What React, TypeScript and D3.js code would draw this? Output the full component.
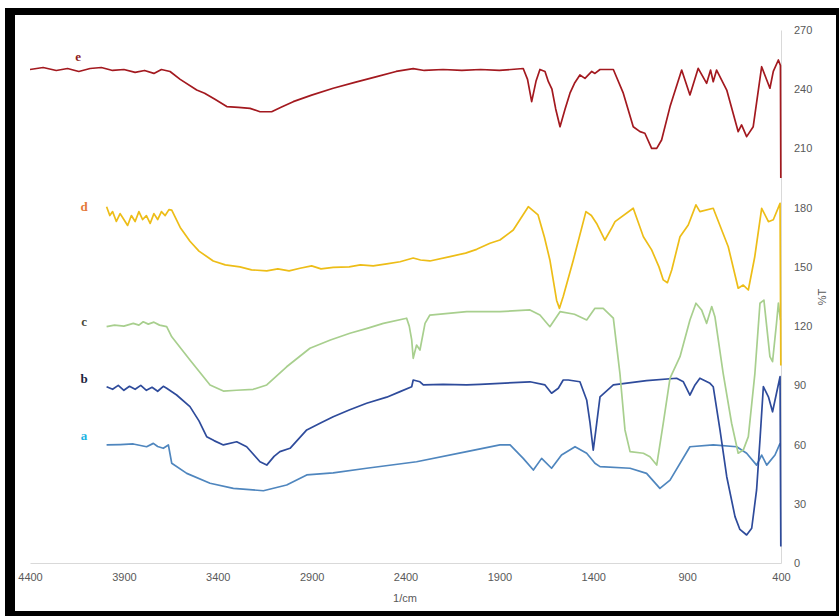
import { useEffect, useRef } from "react";
import * as d3 from "d3";

// wavenumber (1/cm), %T
const seriesE: [number, number][] = [
  [4400, 250], [4330, 251], [4260, 249.5], [4200, 250.5], [4140, 249], [4080, 250.5], [4020, 251],
  [3960, 249.5], [3900, 250], [3840, 248.5], [3790, 249.5], [3740, 248], [3700, 250], [3654, 249],
  [3600, 245], [3512, 239.6], [3470, 238], [3415, 234.9], [3352, 231.2], [3290, 230.8], [3228, 230.3],
  [3175, 228.6], [3113, 228.6], [3060, 231], [2998, 233.7], [2900, 237], [2785, 240.5], [2670, 243.5],
  [2553, 246.4], [2450, 249], [2359, 250.4], [2300, 249.5], [2200, 250], [2100, 249.5], [2000, 250],
  [1900, 249.5], [1773, 250.5], [1750, 245], [1728, 233.7], [1705, 244], [1684, 250], [1657, 249],
  [1639, 243.8], [1620, 240], [1600, 230], [1577, 221], [1550, 230], [1524, 238], [1500, 243],
  [1471, 247.2], [1444, 245.5], [1408, 249], [1391, 248], [1364, 250], [1293, 250], [1240, 238],
  [1187, 221], [1151, 218.5], [1125, 217.7], [1089, 210], [1062, 210], [1036, 214.3], [991, 231.2],
  [929, 249.7], [885, 237.1], [841, 250.6], [796, 243], [775, 249.7], [761, 243.8], [743, 249.7],
  [689, 239.6], [628, 218.5], [610, 221.9], [583, 216], [548, 221], [503, 251.4], [459, 240.5],
  [441, 249], [414, 254.8], [403, 252], [401, 195],
];

const seriesD: [number, number][] = [
  [3992, 180.5], [3975, 176], [3960, 178], [3940, 173], [3920, 177], [3900, 174], [3880, 171],
  [3860, 176], [3840, 173], [3820, 178], [3800, 174], [3780, 176], [3760, 172], [3740, 177],
  [3720, 174], [3700, 178], [3680, 176], [3660, 179], [3645, 178.8], [3600, 170], [3548, 163],
  [3500, 158], [3424, 153], [3360, 151], [3282, 150], [3220, 148.5], [3139, 148], [3080, 149],
  [3020, 148], [2962, 149.3], [2900, 150.5], [2850, 149], [2785, 149.8], [2700, 150], [2640, 151],
  [2572, 150.5], [2500, 151.5], [2429, 152.6], [2359, 154.5], [2320, 153.5], [2270, 153],
  [2163, 155.2], [2080, 157], [2021, 158.9], [1950, 162], [1897, 163.6], [1826, 168.7],
  [1746, 180.5], [1694, 176.3], [1660, 165], [1631, 153.5], [1595, 133], [1580, 129], [1560, 135],
  [1506, 153.5], [1439, 178], [1410, 176], [1382, 172], [1338, 163.6], [1300, 170], [1284, 172.9],
  [1187, 179.7], [1133, 165.3], [1089, 158.6], [1050, 150], [1027, 143.4], [1005, 142], [982, 148.4],
  [938, 165.3], [894, 171.2], [853, 181.4], [832, 178], [761, 179.7], [681, 160.2], [628, 139.2],
  [601, 140.8], [574, 138.3], [540, 155], [503, 179.7], [467, 172.9], [441, 173.9], [405, 182.2],
  [401, 100],
];

const seriesC: [number, number][] = [
  [3992, 119.7], [3950, 120.5], [3900, 120], [3850, 121.4], [3820, 120.5], [3797, 122.2], [3770, 121],
  [3740, 122], [3710, 120.5], [3672, 119.7], [3645, 114.6], [3548, 102.8], [3441, 90.2], [3370, 87.1],
  [3300, 87.5], [3211, 88], [3139, 90.2], [3033, 99.4], [2909, 108.8], [2800, 113], [2696, 116.4],
  [2600, 119], [2518, 121.4], [2394, 124], [2380, 120], [2367, 113], [2359, 103.7], [2341, 110.4],
  [2323, 107.9], [2296, 121.4], [2270, 125.6], [2074, 127.3], [1897, 127.3], [1737, 128.2],
  [1684, 125.6], [1631, 119.7], [1577, 127.3], [1500, 126], [1435, 123.1], [1391, 129], [1347, 129],
  [1293, 124], [1258, 96.1], [1231, 67.4], [1204, 56.4], [1133, 55.6], [1098, 53.8], [1062, 49.6],
  [1027, 70.8], [991, 93.6], [938, 104.5], [885, 123.1], [853, 131.6], [823, 128.2], [796, 121.4],
  [769, 129.9], [752, 124.8], [708, 96.1], [663, 70.8], [628, 55.6], [601, 57.2], [574, 64],
  [539, 96.1], [512, 131.6], [491, 133.2], [459, 104.5], [445, 102], [424, 121.4], [414, 131.6],
  [403, 123],
];

const seriesB: [number, number][] = [
  [3992, 89.3], [3960, 88], [3930, 90], [3900, 87.5], [3870, 89.5], [3840, 88], [3810, 90],
  [3780, 87.5], [3750, 89], [3720, 87], [3690, 89.5], [3672, 88.5], [3619, 85.1], [3548, 79.2],
  [3500, 72], [3459, 64], [3420, 62], [3370, 59.8], [3299, 61.4], [3246, 58.9], [3175, 51.3],
  [3139, 49.6], [3100, 54], [3069, 56.4], [3015, 58.1], [2926, 67.4], [2850, 71], [2785, 74.1],
  [2700, 77.5], [2607, 80.9], [2500, 84], [2429, 86.8], [2367, 89.3], [2359, 92.7], [2323, 91.8],
  [2305, 90.2], [2200, 90.5], [2074, 90.2], [2003, 90.5], [1897, 91], [1737, 91.8], [1657, 90.2],
  [1622, 86], [1586, 88.5], [1560, 92.7], [1533, 92.7], [1471, 91.8], [1435, 82.6], [1417, 70.8],
  [1400, 57.2], [1386, 67.4], [1364, 84.2], [1293, 90.2], [1116, 92.4], [956, 93.6], [920, 91.8],
  [885, 85.1], [858, 90.2], [832, 93.6], [778, 91], [761, 89.3], [725, 67.4], [689, 43.7],
  [645, 23.5], [619, 17], [583, 14.2], [556, 17.6], [530, 37], [512, 62.3], [494, 89.3], [467, 84.2],
  [445, 76.6], [424, 86], [405, 94.4], [401, 8.3],
];

const seriesA: [number, number][] = [
  [3992, 59.8], [3920, 60], [3850, 60.3], [3779, 58.9], [3743, 60.6], [3720, 59], [3690, 58.1],
  [3663, 59.8], [3645, 50.5], [3565, 45.4], [3441, 40.4], [3317, 37.8], [3157, 36.6], [3033, 39.5],
  [2926, 44.6], [2785, 45.7], [2607, 48], [2341, 51.3], [2074, 56.4], [1897, 59.8], [1843, 59.8],
  [1773, 53], [1719, 47.1], [1675, 53], [1622, 48], [1569, 54.7], [1497, 58.9], [1435, 55.6],
  [1391, 50.5], [1364, 48.8], [1204, 48], [1116, 45.4], [1045, 37.8], [991, 42], [885, 58.9],
  [761, 59.8], [636, 58.9], [583, 55.6], [530, 49.6], [503, 54.7], [476, 49.6], [432, 54.7],
  [405, 60.6],
];

const xTicks = [4400, 3900, 3400, 2900, 2400, 1900, 1400, 900, 400];
const yTicks = [0, 30, 60, 90, 120, 150, 180, 210, 240, 270];

const series = [
  { name: "a", data: seriesA, color: "#4F86BE", label: [4112, 63.8], labelColor: "#1BB3E3" },
  { name: "b", data: seriesB, color: "#2E4B9B", label: [4112, 92.7], labelColor: "#1C2540" },
  { name: "c", data: seriesC, color: "#A8CF8E", label: [4112, 121.6], labelColor: "#4C4B3A" },
  { name: "d", data: seriesD, color: "#EDBD17", label: [4112, 179.8], labelColor: "#E4793A" },
  { name: "e", data: seriesE, color: "#A3191F", label: [4144, 255.8], labelColor: "#8E1B1B" },
];

export default function App() {
  const ref = useRef<SVGSVGElement>(null);

  useEffect(() => {
    document.body.style.margin = "0";
    const svg = d3.select(ref.current);
    svg.selectAll("*").remove();

    const W = 839;
    const H = 616;

    // black frame
    svg.append("rect").attr("width", W).attr("height", H).attr("fill", "#fff");
    svg.append("rect").attr("x", 5).attr("y", 8).attr("width", W - 5).attr("height", H - 8).attr("fill", "#000");
    svg.append("rect").attr("x", 15).attr("y", 15).attr("width", 821).attr("height", 596).attr("fill", "#fff");

    const x = d3.scaleLinear().domain([4400, 400]).range([30, 781]);
    const y = d3.scaleLinear().domain([0, 270]).range([563, 30]);

    const font = "'Liberation Sans Narrow', 'Liberation Sans', Arial, sans-serif";

    // axes
    svg
      .append("g")
      .attr("transform", "translate(0,563)")
      .call(d3.axisBottom(x).tickValues(xTicks).tickSize(0).tickPadding(10).tickFormat(d3.format("d")))
      .call((g) => g.select(".domain").attr("stroke", "#D9D9D9"))
      .selectAll("text")
      .attr("fill", "#595959")
      .style("font-family", font)
      .style("font-size", "11px");

    svg
      .append("g")
      .attr("transform", "translate(781,0)")
      .call(d3.axisRight(y).tickValues(yTicks).tickSize(0).tickPadding(13))
      .call((g) => g.select(".domain").attr("stroke", "#D9D9D9"))
      .selectAll("text")
      .attr("fill", "#595959")
      .style("font-family", font)
      .style("font-size", "11px");

    svg
      .append("text")
      .attr("x", 405)
      .attr("y", 602)
      .attr("text-anchor", "middle")
      .attr("fill", "#595959")
      .style("font-family", font)
      .style("font-size", "11px")
      .text("1/cm");

    svg
      .append("text")
      .attr("transform", "translate(826,297) rotate(-90)")
      .attr("text-anchor", "middle")
      .attr("fill", "#595959")
      .style("font-family", font)
      .style("font-size", "11px")
      .text("%T");

    const line = d3
      .line<[number, number]>()
      .x((d) => x(d[0]))
      .y((d) => y(d[1]));

    series.forEach((s) => {
      svg
        .append("path")
        .datum(s.data)
        .attr("fill", "none")
        .attr("stroke", s.color)
        .attr("stroke-width", 1.7)
        .attr("stroke-linejoin", "round")
        .attr("d", line);

      svg
        .append("text")
        .attr("x", x(s.label[0]))
        .attr("y", y(s.label[1]))
        .attr("dominant-baseline", "middle")
        .attr("text-anchor", "middle")
        .attr("fill", s.labelColor)
        .style("font-family", "'Liberation Serif', 'Times New Roman', serif")
        .style("font-weight", "bold")
        .style("font-size", "13px")
        .text(s.name);
    });
  }, []);

  return <svg ref={ref} width={839} height={616} style={{ display: "block" }} />;
}
